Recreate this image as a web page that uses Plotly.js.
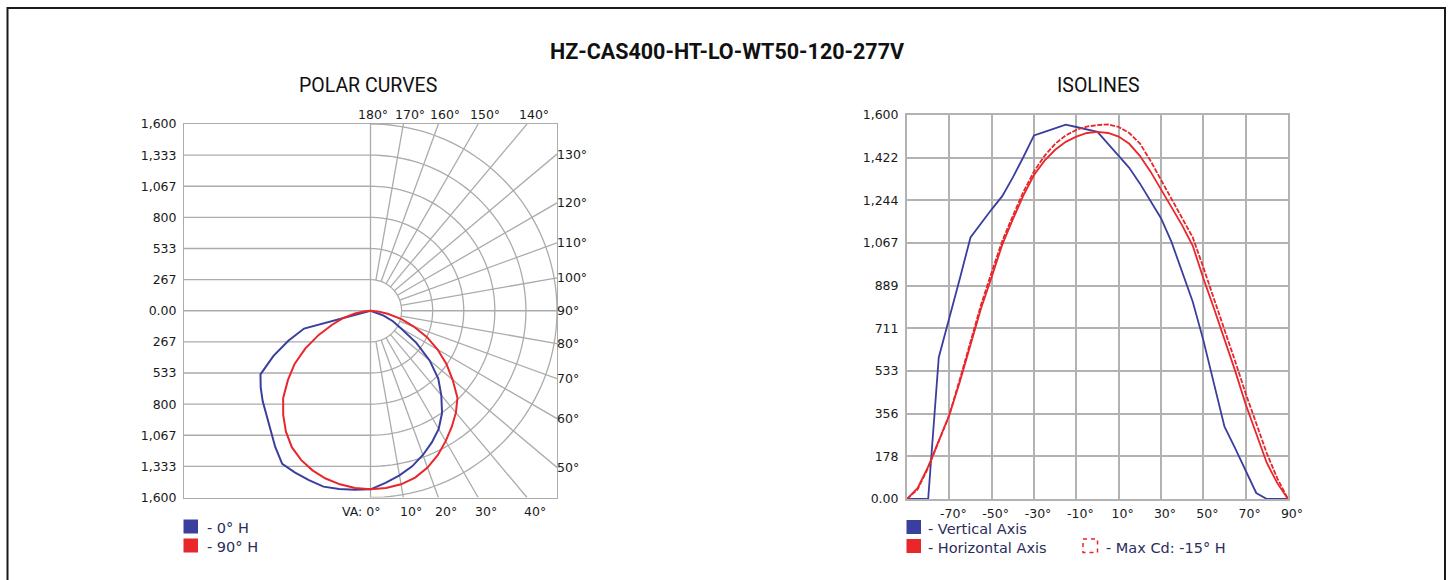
<!DOCTYPE html>
<html><head><meta charset="utf-8">
<script src="https://cdn.plot.ly/plotly-3.0.1.min.js"></script>
<style>html,body{margin:0;padding:0;background:#fff;}#chart{width:1450px;height:580px;}</style>
</head><body><div id="chart"></div>
<script>
// ---- data ----
const angles = [-90,-85,-80,-75,-70,-65,-60,-55,-50,-45,-40,-35,-30,-25,-20,-15,-10,-5,0,5,10,15,20,25,30,35,40,45,50,55,60,65,70,75,80,85,90];
const verticalAxis = [0,0,0,590,750,920,1090,1150,1207,1262,1340,1425,1515,1530,1545,1560,1550,1540,1530,1480,1432,1380,1315,1245,1170,1070,945,822,662,480,301,212,120,25,0,0,0];
const horizontalAxis = [0,45,135,245,350,490,645,795,925,1060,1165,1265,1350,1410,1455,1488,1510,1525,1530,1525,1510,1480,1430,1365,1290,1215,1140,1055,920,795,665,535,395,275,150,65,0];
const maxCdPlane = [0,40,130,240,350,500,660,810,945,1075,1180,1280,1365,1430,1480,1515,1538,1552,1558,1561,1550,1525,1482,1410,1330,1250,1170,1090,965,835,710,575,440,315,190,85,0];

const isoXTickVals = [-70,-50,-30,-10,10,30,50,70,90];
const isoXTickText = ['-70°','-50°','-30°','-10°','10°','30°','50°','70°','90°'];
const isoYTickVals = [0,177.78,355.56,533.33,711.11,888.89,1066.67,1244.44,1422.22,1600];
const isoYTickText = ['0.00','178','356','533','711','889','1,067','1,244','1,422','1,600'];

const polarTickVals = [-1600,-1333.33,-1066.67,-800,-533.33,-266.67,0,266.67,533.33,800,1066.67,1333.33,1600];
const polarTickText = ['1,600','1,333','1,067','800','533','267','0.00','267','533','800','1,067','1,333','1,600'];
const gridRadii = [266.67,533.33,800,1066.67,1333.33,1600];
const topAngleLabels = [180,170,160,150,140];
const rightAngleLabels = [130,120,110,100,90,80,70,60,50];
const bottomAngleLabels = [0,10,20,30,40];

// ---- styling ----
const W = 1450, H = 580;
const px = v => v / W, py = v => 1 - v / H;
const GRID = '#ababab';
const BLUE = '#3a3f9e', RED = '#e8262b';
const TXT = '#1a1a1a', LEG = '#2b2d5c';
const tickFont = {family: 'DejaVu Sans, Verdana, sans-serif', size: 12.5, color: TXT};
const headFont = 'Roboto, Liberation Sans Narrow, sans-serif';
const rad = d => d * Math.PI / 180;

// polar curves: 0 deg = straight down, negative angles to the left
const polarX = vals => vals.map((v, i) => v * Math.sin(rad(angles[i])));
const polarY = vals => vals.map((v, i) => -v * Math.cos(rad(angles[i])));

const traces = [
  {x: polarX(verticalAxis), y: polarY(verticalAxis), xaxis: 'x', yaxis: 'y', mode: 'lines', line: {color: BLUE, width: 2}, hoverinfo: 'skip'},
  {x: polarX(horizontalAxis), y: polarY(horizontalAxis), xaxis: 'x', yaxis: 'y', mode: 'lines', line: {color: RED, width: 2}, hoverinfo: 'skip'},
  {x: angles, y: verticalAxis, xaxis: 'x2', yaxis: 'y2', mode: 'lines', line: {color: BLUE, width: 1.8}, hoverinfo: 'skip'},
  {x: angles, y: maxCdPlane, xaxis: 'x2', yaxis: 'y2', mode: 'lines', line: {color: RED, width: 1.8, dash: '5px,1.5px'}, hoverinfo: 'skip'},
  {x: angles, y: horizontalAxis, xaxis: 'x2', yaxis: 'y2', mode: 'lines', line: {color: RED, width: 1.8}, hoverinfo: 'skip'}
];

// ---- polar grid shapes ----
const shapes = [];
const gl = {color: GRID, width: 1.3};
polarTickVals.forEach(v => {
  if (Math.abs(v) < 1600) shapes.push({type: 'line', xref: 'x', yref: 'y', x0: -1600, x1: 0, y0: v, y1: v, line: gl, layer: 'below'});
});
shapes.push({type: 'line', xref: 'x', yref: 'y', x0: 0, x1: 0, y0: -1600, y1: 1600, line: gl, layer: 'below'});
gridRadii.forEach(r => {
  const pts = [];
  for (let a = 0; a <= 180; a += 2) pts.push((r * Math.sin(rad(a))).toFixed(2) + ',' + (-r * Math.cos(rad(a))).toFixed(2));
  shapes.push({type: 'path', xref: 'x', yref: 'y', path: 'M' + pts.join(' L'), line: gl, layer: 'below'});
});
for (let a = 10; a <= 170; a += 10) {
  const s = Math.sin(rad(a)), c = -Math.cos(rad(a));
  const k = 1600 / Math.max(Math.abs(s), Math.abs(c));
  const r0 = gridRadii[0];
  shapes.push({type: 'line', xref: 'x', yref: 'y', x0: r0 * s, y0: r0 * c, x1: k * s, y1: k * c, line: gl, layer: 'below'});
}
// outer frame of the whole figure
shapes.push({type: 'rect', xref: 'paper', yref: 'paper', x0: px(7.5), x1: px(1445), y0: py(8), y1: -0.1, line: {color: '#1a1a1a', width: 2}});
// legend swatches
shapes.push({type: 'rect', xref: 'paper', yref: 'paper', x0: px(183.5), x1: px(198), y0: py(519.5), y1: py(533.5), fillcolor: BLUE, line: {width: 0}});
shapes.push({type: 'rect', xref: 'paper', yref: 'paper', x0: px(183.5), x1: px(198), y0: py(538.5), y1: py(552.5), fillcolor: RED, line: {width: 0}});
shapes.push({type: 'rect', xref: 'paper', yref: 'paper', x0: px(906.5), x1: px(921), y0: py(520), y1: py(534), fillcolor: BLUE, line: {width: 0}});
shapes.push({type: 'rect', xref: 'paper', yref: 'paper', x0: px(906.5), x1: px(921), y0: py(539), y1: py(553), fillcolor: RED, line: {width: 0}});
shapes.push({type: 'rect', xref: 'paper', yref: 'paper', x0: px(1083), x1: px(1097.5), y0: py(539), y1: py(552.5), fillcolor: 'rgba(0,0,0,0)', line: {color: RED, width: 1.5, dash: '4px,4px'}});

// ---- annotations ----
const ann = [];
ann.push({xref: 'paper', yref: 'paper', x: px(727), y: py(51), text: '<b>HZ-CAS400-HT-LO-WT50-120-277V</b>', showarrow: false, xanchor: 'center', yanchor: 'middle', font: {family: headFont, size: 21.5, color: '#111', weight: 700}});
ann.push({xref: 'paper', yref: 'paper', x: px(367.5), y: py(85), text: 'POLAR CURVES', showarrow: false, xanchor: 'center', yanchor: 'middle', font: {family: headFont, size: 19.5, color: '#111'}});
ann.push({xref: 'paper', yref: 'paper', x: px(1098), y: py(85), text: 'ISOLINES', showarrow: false, xanchor: 'center', yanchor: 'middle', font: {family: headFont, size: 19.5, color: '#111'}});

topAngleLabels.forEach(a => ann.push({xref: 'x', yref: 'y', x: 1600 * Math.tan(rad(180 - a)), y: 1600, text: a + '°', showarrow: false, xanchor: 'center', yanchor: 'bottom', xshift: a === 180 ? 2 : 7, yshift: 0, font: tickFont}));
rightAngleLabels.forEach(a => ann.push({xref: 'x', yref: 'y', x: 1600, y: 1600 * Math.tan(rad(a - 90)), text: a + '°', showarrow: false, xanchor: 'left', yanchor: 'middle', xshift: -2, font: tickFont}));
bottomAngleLabels.forEach(a => ann.push({xref: 'x', yref: 'y', x: 1600 * Math.tan(rad(a)), y: -1600, text: (a === 0 ? 'VA: ' : '') + a + '°', showarrow: false, xanchor: 'center', yanchor: 'top', xshift: a === 0 ? -10 : 8, yshift: -4, font: tickFont}));

const legFont = {family: 'DejaVu Sans, Verdana, sans-serif', size: 14.5, color: LEG};
const legend = [
  [207, 527.5, '- 0° H'], [207, 547, '- 90° H'],
  [928, 529, '- Vertical Axis'], [928, 547.5, '- Horizontal Axis'], [1106, 547.5, '- Max Cd: -15° H']
];
legend.forEach(l => ann.push({xref: 'paper', yref: 'paper', x: px(l[0]), y: py(l[1]), text: l[2], showarrow: false, xanchor: 'left', yanchor: 'middle', xshift: -2, font: legFont}));

const axLine = {showline: true, mirror: true, linecolor: GRID, fixedrange: true, zeroline: false};
const layout = {
  width: W, height: H, margin: {l: 0, r: 0, t: 0, b: 0},
  paper_bgcolor: '#fff', plot_bgcolor: '#fff', showlegend: false,
  xaxis: Object.assign({domain: [px(184), px(557)], range: [-1600, 1600], showgrid: false, showticklabels: false, ticks: '', linewidth: 1}, axLine),
  yaxis: Object.assign({domain: [py(497.5), py(124)], range: [-1600, 1600], showgrid: false, tickvals: polarTickVals, ticktext: polarTickText, ticks: '', tickfont: tickFont, ticklabelstandoff: 4, linewidth: 1}, axLine),
  xaxis2: Object.assign({domain: [px(907), px(1288)], range: [-90, 90], anchor: 'y2', tickvals: isoXTickVals, ticktext: isoXTickText, ticks: '', tickfont: tickFont, ticklabelshift: 4, ticklabelstandoff: 2, showgrid: true, gridcolor: '#b2b2b2', gridwidth: 2, linewidth: 2}, axLine, {linecolor: '#b2b2b2'}),
  yaxis2: Object.assign({domain: [py(499), py(115)], range: [0, 1600], anchor: 'x2', tickvals: isoYTickVals, ticktext: isoYTickText, ticks: '', tickfont: tickFont, ticklabelstandoff: 4, showgrid: true, gridcolor: '#b2b2b2', gridwidth: 2, linewidth: 2}, axLine, {linecolor: '#b2b2b2'}),
  shapes: shapes, annotations: ann
};
Plotly.newPlot('chart', traces, layout, {displayModeBar: false});
</script></body></html>
